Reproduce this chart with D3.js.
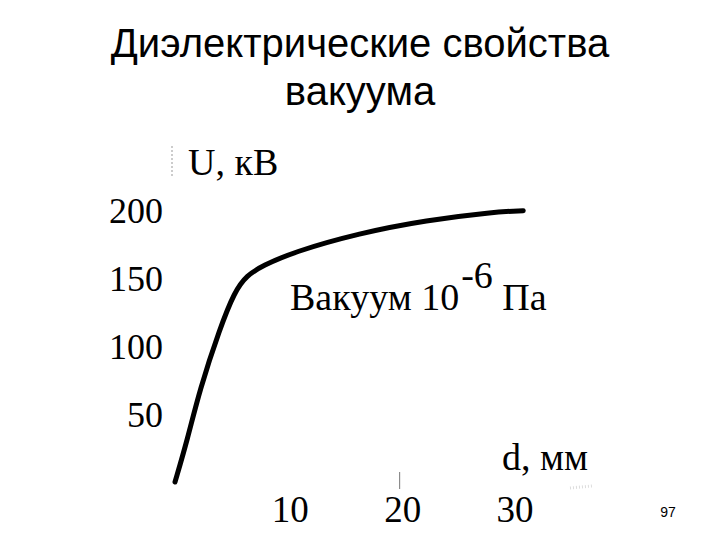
<!DOCTYPE html>
<html>
<head>
<meta charset="utf-8">
<script src="https://cdn.jsdelivr.net/npm/d3@7"></script>
<style>
  body { margin: 0; background: #fff; }
  svg { display: block; }
</style>
</head>
<body>
<svg id="chart" width="720" height="540"></svg>
<script>
// Breakdown voltage of a vacuum gap
let gapMm = [0, 1.1, 2.2, 4.0, 5.3, 6.4, 7.8, 10.5, 16.4, 22.4, 28.3, 31];
let voltKv = [0, 31, 68, 113, 140, 152, 159, 169, 183, 192.5, 198.5, 199.5];

let xTicks = [10, 20, 30];
let yTicks = [50, 100, 150, 200];

let titleLines = ["Диэлектрические свойства", "вакуума"];

let svg = d3.select("#chart");
let serif = "'Liberation Serif', 'Times New Roman', serif";
let sans = "'Liberation Sans', Arial, sans-serif";

let x = d3.scaleLinear().domain([0, 30]).range([175, 512]);
let y = d3.scaleLinear().domain([0, 200]).range([482, 210]);

// title
svg.selectAll(".title")
  .data(titleLines)
  .enter()
  .append("text")
  .attr("class", "title")
  .attr("x", 360)
  .attr("y", (d, i) => 57 + i * 48)
  .attr("text-anchor", "middle")
  .attr("font-family", sans)
  .attr("font-size", 40)
  .attr("fill", "#000")
  .text((d) => d);

// faint axis leftovers
svg.append("line")
  .attr("x1", 172).attr("y1", 176)
  .attr("x2", 172).attr("y2", 146)
  .attr("stroke", "#ccc")
  .attr("stroke-width", 2)
  .attr("stroke-dasharray", "2,2");
svg.append("line")
  .attr("x1", x(20)).attr("y1", 472)
  .attr("x2", x(20)).attr("y2", 489)
  .attr("stroke", "#777")
  .attr("stroke-width", 1);
svg.append("line")
  .attr("x1", 570).attr("y1", 488)
  .attr("x2", 592).attr("y2", 486)
  .attr("stroke", "#ddd")
  .attr("stroke-width", 3)
  .attr("stroke-dasharray", "1,2");

// tick labels
svg.selectAll(".ylab")
  .data(yTicks)
  .enter()
  .append("text")
  .attr("class", "ylab")
  .attr("x", 163)
  .attr("y", (d) => y(d))
  .attr("dy", "0.35em")
  .attr("text-anchor", "end")
  .attr("font-family", serif)
  .attr("font-size", 36)
  .text((d) => d);

svg.selectAll(".xlab")
  .data(xTicks)
  .enter()
  .append("text")
  .attr("class", "xlab")
  .attr("x", (d) => x(d) + 3)
  .attr("y", 522)
  .attr("text-anchor", "middle")
  .attr("font-family", serif)
  .attr("font-size", 37)
  .text((d) => d);

// axis names
svg.append("text")
  .attr("x", 188).attr("y", 175)
  .attr("font-family", serif)
  .attr("font-size", 38)
  .text("U, кВ");

svg.append("text")
  .attr("x", 502).attr("y", 470)
  .attr("font-family", serif)
  .attr("font-size", 38)
  .text("d, мм");

// curve label with superscript
let lab = svg.append("text")
  .attr("x", 290).attr("y", 310)
  .attr("font-family", serif)
  .attr("font-size", 38);
lab.append("tspan").text("Вакуум 10");
lab.append("tspan").attr("dx", 2).attr("dy", -22).text("-6");
lab.append("tspan").attr("dy", 22).text(" Па");

// the curve
let pts = gapMm.map((d, i) => [d, voltKv[i]]);
let line = d3.line()
  .x((d) => x(d[0]))
  .y((d) => y(d[1]))
  .curve(d3.curveBasis);

svg.append("path")
  .datum(pts)
  .attr("d", line)
  .attr("fill", "none")
  .attr("stroke", "#000")
  .attr("stroke-width", 5)
  .attr("stroke-linecap", "round");

// slide number
svg.append("text")
  .attr("x", 668).attr("y", 517)
  .attr("text-anchor", "middle")
  .attr("font-family", sans)
  .attr("font-size", 14)
  .text("97");
</script>
</body>
</html>
